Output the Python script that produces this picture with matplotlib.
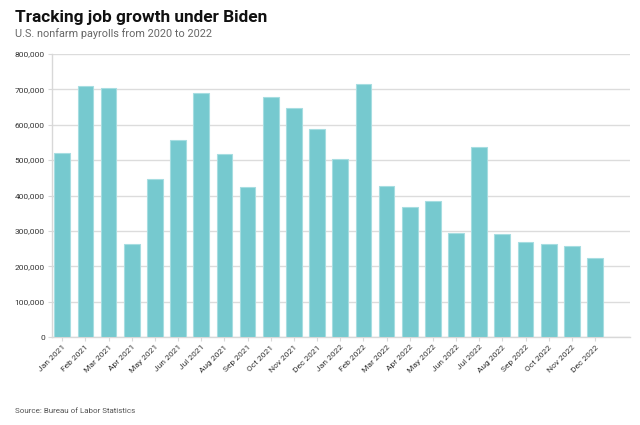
import matplotlib.pyplot as plt
from matplotlib.ticker import FuncFormatter

months = ['Jan 2021', 'Feb 2021', 'Mar 2021', 'Apr 2021', 'May 2021', 'Jun 2021',
          'Jul 2021', 'Aug 2021', 'Sep 2021', 'Oct 2021', 'Nov 2021', 'Dec 2021',
          'Jan 2022', 'Feb 2022', 'Mar 2022', 'Apr 2022', 'May 2022', 'Jun 2022',
          'Jul 2022', 'Aug 2022', 'Sep 2022', 'Oct 2022', 'Nov 2022', 'Dec 2022']
payrolls = [520000, 710000, 704000, 263000, 447000, 557000,
            689000, 517000, 424000, 677000, 647000, 588000,
            504000, 714000, 428000, 368000, 384000, 293000,
            537000, 292000, 269000, 263000, 256000, 223000]
y_ticks = [0, 100000, 200000, 300000, 400000, 500000, 600000, 700000, 800000]

plt.rcParams['font.family'] = ['Roboto', 'DejaVu Sans']

fig = plt.figure(figsize=(6.4, 4.25), dpi=100)
ax = fig.add_axes([0.081, 0.207, 0.903, 0.666])

x = list(range(len(months)))
ax.bar(x, payrolls, width=0.68, color='#76c9cf', edgecolor='#a6dde1',
       linewidth=0.8, zorder=3)

ax.set_ylim(0, 800000)
ax.set_xlim(-0.45, 24.5)
ax.set_yticks(y_ticks)
ax.yaxis.set_major_formatter(FuncFormatter(lambda v, p: f'{int(v):,}'))
ax.set_xticks(x)
ax.set_xticklabels(months, rotation=45, ha='right', rotation_mode='anchor')

ax.grid(axis='y', color='#dcdcdc', linewidth=1, zorder=0)
for s in ['top', 'right']:
    ax.spines[s].set_visible(False)
for s in ['left', 'bottom']:
    ax.spines[s].set_color('#d8d8d8')
    ax.spines[s].set_linewidth(1)
ax.tick_params(axis='both', colors='#d8d8d8', labelcolor='#333333',
               labelsize=6, length=3, width=0.8)
ax.tick_params(axis='y', pad=2)
ax.tick_params(axis='x', pad=2)

fig.text(0.023, 0.948, 'Tracking job growth under Biden', fontsize=12.4,
         fontweight='bold', color='#111111')
fig.text(0.023, 0.913, 'U.S. nonfarm payrolls from 2020 to 2022', fontsize=7.8,
         color='#666666')
fig.text(0.023, 0.028, 'Source: Bureau of Labor Statistics', fontsize=5.8,
         color='#555555')

fig.savefig('out.png', dpi=100)
